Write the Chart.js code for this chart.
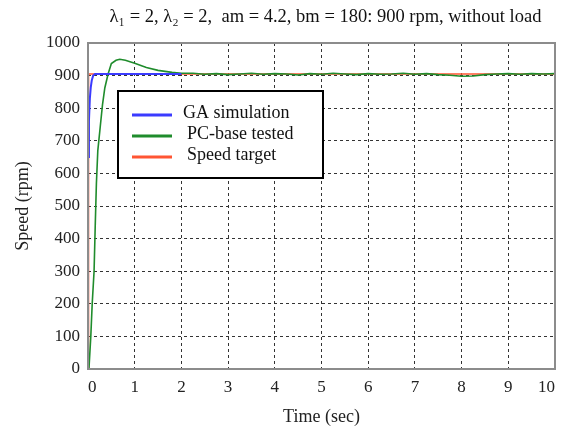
<!DOCTYPE html>
<html>
<head>
<meta charset="utf-8">
<script src="https://cdn.jsdelivr.net/npm/chart.js@4.4.0/dist/chart.umd.min.js"></script>
<style>
  html, body { margin: 0; padding: 0; background: #fff; }
  #wrap { width: 563px; height: 432px; }
</style>
</head>
<body>
<div id="wrap"><canvas id="speedChart"></canvas></div>
<script>
// ==== DATOS ====
const titleText = "λ₁ = 2, λ₂ = 2,  am = 4.2, bm = 180: 900 rpm, without load";
const seriesLabels = ["GA simulation", "PC-base tested", "Speed target"];
const xTicks = [0, 1, 2, 3, 4, 5, 6, 7, 8, 9, 10];
const yTicks = [0, 100, 200, 300, 400, 500, 600, 700, 800, 900, 1000];

// GA simulation (blue)
const timeGA  = [0, 0.02, 0.04, 0.06, 0.08, 0.11, 0.15, 2.0];
const speedGA = [650, 760, 830, 865, 885, 900, 905, 905];

// PC-base tested (green)
const timePC = [0.02, 0.06, 0.09, 0.13, 0.155, 0.18, 0.21, 0.26, 0.31, 0.36, 0.43, 0.5, 0.6, 0.68, 0.8,
  1.0, 1.25, 1.5, 1.8, 2.0,
  2.25, 2.5, 2.75, 3, 3.25, 3.5, 3.75, 4, 4.25, 4.5, 4.75, 5, 5.25, 5.5, 5.75, 6,
  6.25, 6.5, 6.75, 7, 7.25, 7.5, 7.75, 8, 8.25, 8.5, 8.75, 9, 9.25, 9.5, 9.75, 10];
const speedPC = [0, 100, 200, 300, 440, 570, 670, 740, 810, 862, 905, 937, 947, 950, 947,
  938, 925, 916, 910, 907,
  907, 904, 906, 903, 905, 907, 904, 906, 905, 902, 906, 904, 907, 905, 903, 906,
  904, 905, 907, 904, 906, 903, 901, 898, 899, 903, 905, 906, 904, 906, 905, 906];

// Speed target (red)
const timeTarget  = [0.01, 0.01, 10];
const speedTarget = [0, 905, 905];

const toPoints = (xs, ys) => xs.map((x, i) => ({ x: x, y: ys[i] }));
const serif = "'Liberation Serif', 'Times New Roman', serif";

// ==== MARCO, TITULO Y LEYENDA ====
const frameAndLegend = {
  id: "frameAndLegend",
  afterDraw(chart) {
    const { ctx, chartArea: a } = chart;
    ctx.save();
    ctx.strokeStyle = "#8c8c8c";
    ctx.lineWidth = 2;
    ctx.strokeRect(a.left, a.top, a.right - a.left, a.bottom - a.top);

    ctx.fillStyle = "#111";
    ctx.font = "18.5px " + serif;
    ctx.textAlign = "center";
    ctx.textBaseline = "middle";
    ctx.fillText(titleText, (a.left + a.right) / 2 + 4, 17);

    // leyenda dentro del area
    const bx = a.left + 30, by = a.top + 48, bw = 205, bh = 87;
    ctx.fillStyle = "#fff";
    ctx.fillRect(bx, by, bw, bh);
    ctx.strokeStyle = "#000";
    ctx.lineWidth = 2;
    ctx.strokeRect(bx, by, bw, bh);
    ctx.font = "18px " + serif;
    ctx.textAlign = "left";
    chart.data.datasets.forEach((ds, i) => {
      const y = by + 24 + i * 21;
      ctx.strokeStyle = ds.borderColor;
      ctx.lineWidth = 3;
      ctx.beginPath();
      ctx.moveTo(bx + 14, y);
      ctx.lineTo(bx + 54, y);
      ctx.stroke();
      ctx.fillStyle = "#111";
      ctx.fillText(ds.label, bx + (i === 0 ? 65 : 69), y - 2);
    });
    ctx.restore();
  }
};

new Chart(document.getElementById("speedChart"), {
  type: "line",
  data: {
    datasets: [
      { label: seriesLabels[0], data: toPoints(timeGA, speedGA), borderColor: "#3b3bff", borderWidth: 2, pointRadius: 0, fill: false },
      { label: seriesLabels[1], data: toPoints(timePC, speedPC), borderColor: "#1f8c2c", borderWidth: 1.6, pointRadius: 0, fill: false },
      { label: seriesLabels[2], data: toPoints(timeTarget, speedTarget), borderColor: "#ff5533", borderWidth: 1.6, pointRadius: 0, fill: false }
    ]
  },
  options: {
    responsive: true,
    maintainAspectRatio: false,
    animation: false,
    layout: { padding: { top: 43, right: 7, left: 0, bottom: 0 } },
    plugins: { legend: { display: false }, title: { display: false }, tooltip: { enabled: false } },
    scales: {
      x: {
        type: "linear",
        min: 0, max: 10,
        afterBuildTicks: s => { s.ticks = xTicks.map(v => ({ value: v })); },
        afterFit: s => { s.height = 63; },
        grid: { color: "#333", lineWidth: 1, drawTicks: false },
        border: { display: false, dash: [3, 3] },
        ticks: { color: "#222", font: { family: serif, size: 17 }, padding: 8, maxRotation: 0, align: "inner",
                 callback: v => String(v) },
        title: { display: true, text: "Time (sec)", color: "#222", font: { family: serif, size: 18 }, padding: { top: 4 } }
      },
      y: {
        min: 0, max: 1000,
        afterBuildTicks: s => { s.ticks = yTicks.map(v => ({ value: v })); },
        afterFit: s => { s.width = 88; },
        grid: { color: "#333", lineWidth: 1, drawTicks: false },
        border: { display: false, dash: [3, 3] },
        ticks: { color: "#222", font: { family: serif, size: 17 }, padding: 8, callback: v => String(v) },
        title: { display: true, text: "Speed (rpm)", color: "#222", font: { family: serif, size: 18 }, padding: { top: 12, bottom: 0 } }
      }
    }
  },
  plugins: [frameAndLegend]
});
</script>
</body>
</html>
